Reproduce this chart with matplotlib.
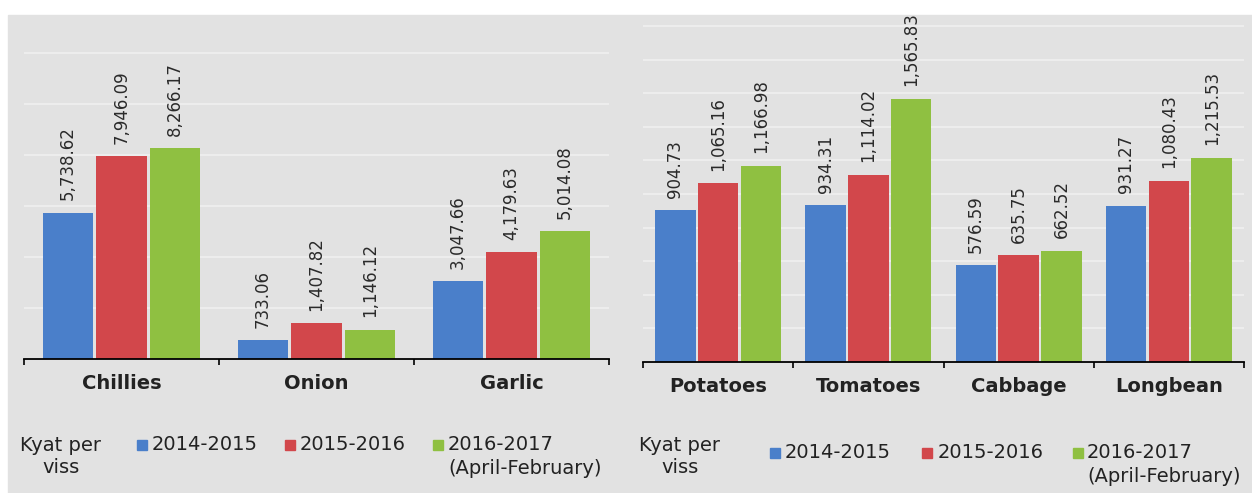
import numpy as np
import matplotlib.pyplot as plt
from matplotlib.patches import Rectangle

# values in Kyat per viss
left_cats = ['Chillies', 'Onion', 'Garlic']
left_2014 = [5738.62, 733.06, 3047.66]
left_2015 = [7946.09, 1407.82, 4179.63]
left_2016 = [8266.17, 1146.12, 5014.08]

right_cats = ['Potatoes', 'Tomatoes', 'Cabbage', 'Longbean']
right_2014 = [904.73, 934.31, 576.59, 931.27]
right_2015 = [1065.16, 1114.02, 635.75, 1080.43]
right_2016 = [1166.98, 1565.83, 662.52, 1215.53]

series_labels = ['2014-2015', '2015-2016', '2016-2017\n(April-February)']
unit_label = 'Kyat per\nviss'

COLORS = ['#4a7fca', '#d2474b', '#8fc041']
BG = '#e2e2e2'
TXT = '#222222'

W, H = 1252, 493
fig = plt.figure(figsize=(W / 100, H / 100), dpi=100)
fig.patch.set_facecolor('white')
fig.patches.append(Rectangle((8 / W, 0), 1 - 8 / W, 1 - 15 / H,
                             transform=fig.transFigure, color=BG, zorder=-10))


def px_axes(x0, x1, y_top, y_base):
    return fig.add_axes([x0 / W, 1 - y_base / H, (x1 - x0) / W, (y_base - y_top) / H])


def draw_panel(ax, cats, series, ymax, step, width, spacing):
    x = np.arange(len(cats))
    for i, vals in enumerate(series):
        xs = x + (i - 1) * spacing
        ax.bar(xs, vals, width, color=COLORS[i], zorder=2)
        for xi, v in zip(xs, vals):
            ax.annotate(f'{v:,.2f}', (xi, v), xytext=(0, 9), textcoords='offset points',
                        rotation=90, ha='center', va='bottom', fontsize=12, color='#2a2a2a')
    ax.set_xlim(-0.5, len(cats) - 0.5)
    ax.set_ylim(0, ymax)
    ax.set_facecolor('none')
    for s in ['top', 'right', 'left']:
        ax.spines[s].set_visible(False)
    ax.spines['bottom'].set_linewidth(1.3)
    ax.set_xticks(x)
    ax.set_xticklabels(cats, fontsize=14, fontweight='bold', color=TXT)
    ax.tick_params(axis='x', which='major', length=0, pad=11)
    ax.set_xticks(np.arange(-0.5, len(cats), 1), minor=True)
    ax.tick_params(axis='x', which='minor', length=4.5, width=1.2, direction='out')
    ax.set_yticks(np.arange(0, ymax, step))
    ax.tick_params(axis='y', length=0, labelleft=False)
    # the scanned gridlines are barely visible
    ax.yaxis.grid(True, color='white', lw=1.1, alpha=0.5, zorder=0)
    ax.set_axisbelow(True)


def draw_legend(unit_x, sq_x, txt_x, y_unit, y_items):
    fig.text(unit_x / W, 1 - (y_unit + 11.5) / H, unit_label, ha='center', va='center',
             fontsize=14, color=TXT, linespacing=1.2, multialignment='center')
    for i, lab in enumerate(series_labels):
        fig.patches.append(Rectangle((sq_x[i] / W, 1 - (y_items + 5) / H), 10 / W, 10 / H,
                                     transform=fig.transFigure, color=COLORS[i]))
        for j, line in enumerate(lab.split('\n')):
            fig.text(txt_x[i] / W, 1 - (y_items + j * 23) / H, line, ha='left', va='center',
                     fontsize=14, color=TXT)


ax1 = px_axes(24, 609, 17, 359)
draw_panel(ax1, left_cats, [left_2014, left_2015, left_2016], 13410, 2000, 0.26, 0.275)

ax2 = px_axes(643, 1244, 17, 362)
draw_panel(ax2, right_cats, [right_2014, right_2015, right_2016], 2054, 200, 0.27, 0.285)

draw_legend(61, [137, 285, 433], [152, 300, 448], 445, 445)
draw_legend(680, [770, 922, 1073], [785, 938, 1087], 445, 453)

fig.savefig('out.png', dpi=100)
